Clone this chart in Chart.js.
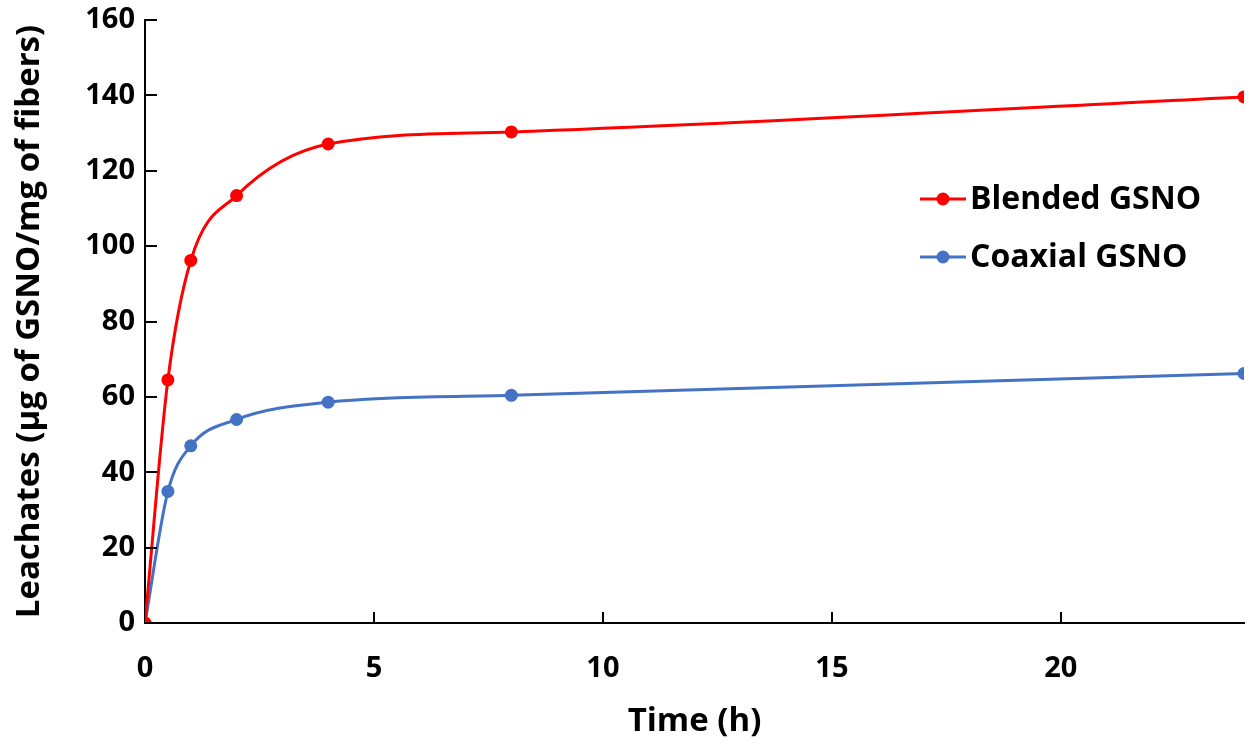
<!DOCTYPE html>
<html><head><meta charset="utf-8">
<script src="https://cdn.jsdelivr.net/npm/chart.js@4.4.1/dist/chart.umd.min.js"></script>
<style>html,body{margin:0;padding:0;background:#fff}#wrap{width:1260px;height:752px}</style>
</head><body><div id="wrap"><canvas id="c" width="1260" height="752"></canvas></div>
<script>
const timeH = [0, 0.5, 1, 2, 4, 8, 24];
const blended = [0, 64.5, 96.2, 113.4, 127.1, 130.3, 139.6];
const coaxial = [0, 34.9, 47, 54, 58.6, 60.4, 66.2];
const seriesNames = ['Blended GSNO', 'Coaxial GSNO'];
const xTicks = [0, 5, 10, 15, 20];
const yTicks = [0, 20, 40, 60, 80, 100, 120, 140, 160];
const FONT = "'Open Sans', sans-serif";

const toPts = arr => timeH.map((t, i) => ({x: t, y: arr[i]}));

const innerTicks = {
  id: 'innerTicks',
  afterDatasetsDraw(chart) {
    const {ctx, chartArea: a, scales: {x, y}} = chart;
    ctx.save();
    ctx.strokeStyle = '#000'; ctx.lineWidth = 2;
    ctx.beginPath();
    yTicks.forEach(v => { const p = Math.round(y.getPixelForValue(v)); ctx.moveTo(a.left, p); ctx.lineTo(a.left + 12, p); });
    xTicks.forEach(v => { const p = Math.round(x.getPixelForValue(v)); if (v !== 0) { ctx.moveTo(p, a.bottom); ctx.lineTo(p, a.bottom - 11); } });
    ctx.stroke();
    ctx.restore();
  }
};

const legendPlugin = {
  id: 'customLegend',
  afterDraw(chart) {
    const {ctx} = chart;
    ctx.save();
    ctx.font = `bold 32px ${FONT}`;
    ctx.textBaseline = 'middle';
    chart.data.datasets.forEach((ds, i) => {
      const cy = 199 + i * 58, x0 = 920, x1 = 966;
      ctx.strokeStyle = ds.borderColor; ctx.lineWidth = 3;
      ctx.beginPath(); ctx.moveTo(x0, cy); ctx.lineTo(x1, cy); ctx.stroke();
      ctx.fillStyle = ds.backgroundColor;
      ctx.beginPath(); ctx.arc((x0 + x1) / 2, cy, 6.5, 0, Math.PI * 2); ctx.fill();
      ctx.fillStyle = '#000';
      ctx.fillText(ds.label, 970, cy + 1);
    });
    ctx.restore();
  }
};

new Chart(document.getElementById('c'), {
  type: 'line',
  data: {
    datasets: [
      {label: seriesNames[0], data: toPts(blended), borderColor: '#ff0000', backgroundColor: '#ff0000', pointRadius: 6.5, borderWidth: 3, cubicInterpolationMode: 'monotone', pointBorderWidth: 0},
      {label: seriesNames[1], data: toPts(coaxial), borderColor: '#4472c4', backgroundColor: '#4472c4', pointRadius: 6.5, borderWidth: 3, cubicInterpolationMode: 'monotone', pointBorderWidth: 0}
    ]
  },
  options: {
    responsive: false, animation: false,
    layout: {padding: {top: 20, right: 16, left: 0, bottom: 0}},
    plugins: {legend: {display: false}, tooltip: {enabled: false}},
    scales: {
      x: {
        type: 'linear', min: 0, max: 24,
        afterBuildTicks: s => { s.ticks = xTicks.map(v => ({value: v})); },
        afterFit: s => { s.height = 129; s.paddingLeft = 0; s.paddingRight = 0; },
        grid: {display: false, drawTicks: false},
        border: {display: true, color: '#000', width: 2},
        ticks: {color: '#000', font: {family: FONT, weight: 'bold', size: 29}, padding: 28},
        title: {display: true, text: 'Time (h)', color: '#000', font: {family: FONT, weight: 'bold', size: 33}, padding: {top: 4, bottom: 11}}
      },
      y: {
        min: 0, max: 160,
        afterBuildTicks: s => { s.ticks = yTicks.map(v => ({value: v})); },
        afterFit: s => { s.width = 145; s.paddingTop = 0; s.paddingBottom = 0; },
        grid: {display: false, drawTicks: false},
        border: {display: true, color: '#000', width: 2},
        ticks: {color: '#000', font: {family: FONT, weight: 'bold', size: 29}, padding: 10},
        title: {display: true, text: 'Leachates (µg of GSNO/mg of fibers)', color: '#000', font: {family: FONT, weight: 'bold', size: 33}, padding: {top: 10, bottom: 4}}
      }
    }
  },
  plugins: [innerTicks, legendPlugin]
});
</script></body></html>
